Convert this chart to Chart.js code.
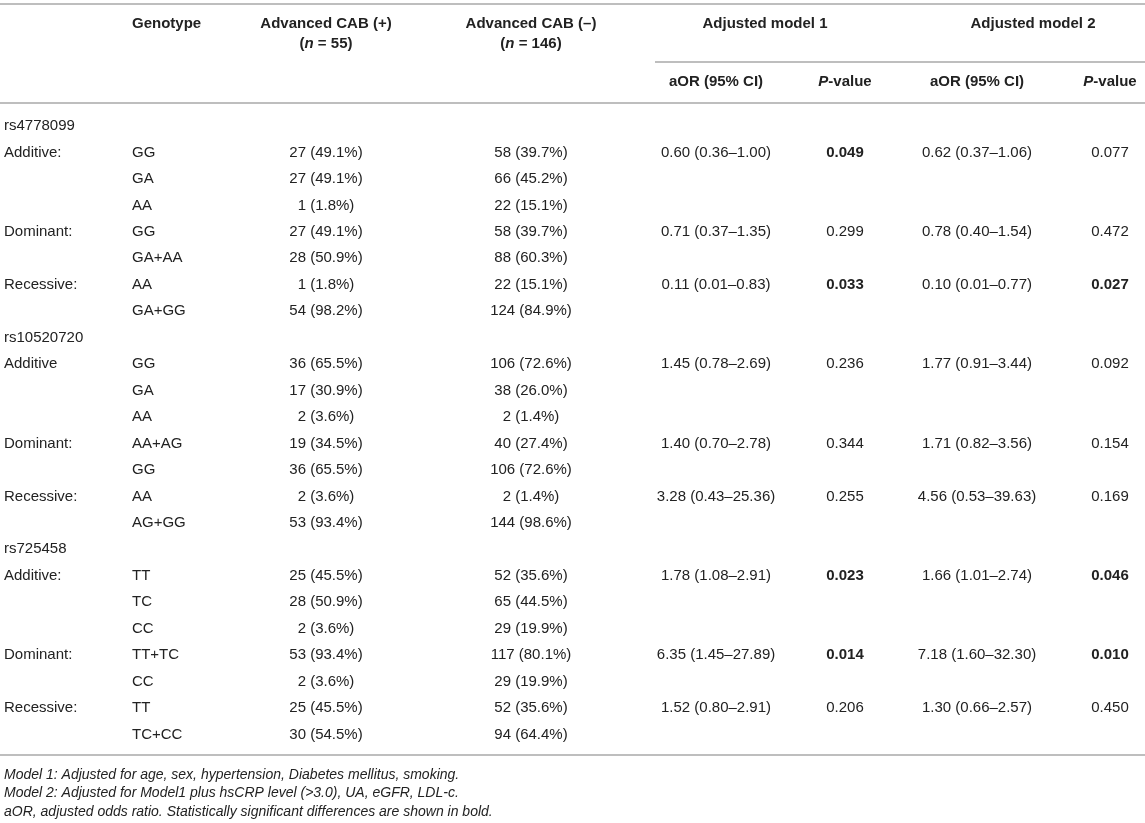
<!DOCTYPE html>
<html>
<head>
  <meta charset="utf-8">
  <title>Genotype table</title>
  <script src="https://cdn.jsdelivr.net/npm/chart.js"></script>
  <style>
    html, body { margin: 0; padding: 0; background: #fff; }
    #wrap { width: 1145px; height: 823px; position: relative; }
  </style>
</head>
<body>

<div id="wrap"><canvas id="tbl"></canvas></div>

<script>
  const rowGroup = ['rs4778099', 'Additive:', '', '', 'Dominant:', '', 'Recessive:', '',
                    'rs10520720', 'Additive', '', '', 'Dominant:', '', 'Recessive:', '',
                    'rs725458', 'Additive:', '', '', 'Dominant:', '', 'Recessive:', ''];
  const genotypes = ['', 'GG', 'GA', 'AA', 'GG', 'GA+AA', 'AA', 'GA+GG',
                     '', 'GG', 'GA', 'AA', 'AA+AG', 'GG', 'AA', 'AG+GG',
                     '', 'TT', 'TC', 'CC', 'TT+TC', 'CC', 'TT', 'TC+CC'];

  // Advanced CAB (+), n = 55
  const posN   = [null, 27, 27, 1, 27, 28, 1, 54,  null, 36, 17, 2, 19, 36, 2, 53,  null, 25, 28, 2, 53, 2, 25, 30];
  const posPct = [null, 49.1, 49.1, 1.8, 49.1, 50.9, 1.8, 98.2,  null, 65.5, 30.9, 3.6, 34.5, 65.5, 3.6, 93.4,
                  null, 45.5, 50.9, 3.6, 93.4, 3.6, 45.5, 54.5];
  // Advanced CAB (–), n = 146
  const negN   = [null, 58, 66, 22, 58, 88, 22, 124,  null, 106, 38, 2, 40, 106, 2, 144,  null, 52, 65, 29, 117, 29, 52, 94];
  const negPct = [null, 39.7, 45.2, 15.1, 39.7, 60.3, 15.1, 84.9,  null, 72.6, 26.0, 1.4, 27.4, 72.6, 1.4, 98.6,
                  null, 35.6, 44.5, 19.9, 80.1, 19.9, 35.6, 64.4];

  // rows that carry model results
  const modelRows = [1, 4, 6, 9, 12, 14, 17, 20, 22];
  const m1Or = [0.60, 0.71, 0.11, 1.45, 1.40, 3.28, 1.78, 6.35, 1.52];
  const m1Lo = [0.36, 0.37, 0.01, 0.78, 0.70, 0.43, 1.08, 1.45, 0.80];
  const m1Hi = [1.00, 1.35, 0.83, 2.69, 2.78, 25.36, 2.91, 27.89, 2.91];
  const m1P  = [0.049, 0.299, 0.033, 0.236, 0.344, 0.255, 0.023, 0.014, 0.206];
  const m2Or = [0.62, 0.78, 0.10, 1.77, 1.71, 4.56, 1.66, 7.18, 1.30];
  const m2Lo = [0.37, 0.40, 0.01, 0.91, 0.82, 0.53, 1.01, 1.60, 0.66];
  const m2Hi = [1.06, 1.54, 0.77, 3.44, 3.56, 39.63, 2.74, 32.30, 2.57];
  const m2P  = [0.077, 0.472, 0.027, 0.092, 0.154, 0.169, 0.046, 0.010, 0.450];

  const groupHeads = ['Advanced CAB (+)', 'Advanced CAB (\u2013)'];
  const groupSizes = [55, 146];
  const modelNames = ['Adjusted model 1', 'Adjusted model 2'];
  const footnotes = [
    'Model 1: Adjusted for age, sex, hypertension, Diabetes mellitus, smoking.',
    'Model 2: Adjusted for Model1 plus hsCRP level (>3.0), UA, eGFR, LDL-c.',
    'aOR, adjusted odds ratio. Statistically significant differences are shown in bold.'
  ];

  // --- layout (column anchors on the x scale, 0..1145) ---
  const colX = { group: 4, geno: 132, pos: 326, neg: 531, or1: 716, p1: 845, or2: 977, p2: 1110 };
  const modelHeadX = [765, 1033];
  const textColor = '#222222';
  const ruleColor = '#a8a8a8';
  const FONT = '"Liberation Sans", Arial, Helvetica, sans-serif';
  const BODY = 15;

  function font(size, bold, italic) {
    return (italic ? 'italic ' : '') + (bold ? 'bold ' : '') + size + 'px ' + FONT;
  }

  const fmtCount = (n, p) => n + ' (' + p.toFixed(1) + '%)';
  const fmtOr = (o, l, h) => o.toFixed(2) + ' (' + l.toFixed(2) + '\u2013' + h.toFixed(2) + ')';

  // one scatter dataset per column; points are invisible, text is drawn on them
  function column(key, align, texts, bolds) {
    const pts = [], labels = [], bold = [];
    texts.forEach((t, i) => {
      if (t === null || t === '') return;
      pts.push({ x: colX[key], y: i });
      labels.push(t);
      bold.push(bolds ? bolds[i] : false);
    });
    return { label: key, data: pts, texts: labels, bold: bold, align: align, pointRadius: 0, pointHitRadius: 0 };
  }

  function modelCol(vals) {
    const out = new Array(rowGroup.length).fill(null);
    modelRows.forEach((r, k) => { out[r] = vals(k); });
    return out;
  }

  const datasets = [
    column('group', 'left', rowGroup),
    column('geno', 'left', genotypes),
    column('pos', 'center', posN.map((n, i) => n === null ? null : fmtCount(n, posPct[i]))),
    column('neg', 'center', negN.map((n, i) => n === null ? null : fmtCount(n, negPct[i]))),
    column('or1', 'center', modelCol(k => fmtOr(m1Or[k], m1Lo[k], m1Hi[k]))),
    column('p1', 'center', modelCol(k => m1P[k].toFixed(3)), modelCol(k => m1P[k] < 0.05)),
    column('or2', 'center', modelCol(k => fmtOr(m2Or[k], m2Lo[k], m2Hi[k]))),
    column('p2', 'center', modelCol(k => m2P[k].toFixed(3)), modelCol(k => m2P[k] < 0.05))
  ];

  function drawRuns(ctx, runs, x, y, align, size) {
    let w = 0;
    runs.forEach(r => { ctx.font = font(size, r.b, r.i); r.w = ctx.measureText(r.t).width; w += r.w; });
    let cx = align === 'center' ? x - w / 2 : x;
    runs.forEach(r => {
      ctx.font = font(size, r.b, r.i);
      ctx.textAlign = 'left';
      ctx.fillText(r.t, cx, y);
      cx += r.w;
    });
  }

  function rule(ctx, x0, x1, y) {
    ctx.beginPath();
    ctx.moveTo(x0, y);
    ctx.lineTo(x1, y);
    ctx.stroke();
  }

  const tablePlugin = {
    id: 'tableText',
    afterDatasetsDraw(chart) {
      const ctx = chart.ctx;
      const xs = chart.scales.x, ys = chart.scales.y;
      const W = chart.width;
      ctx.save();
      ctx.fillStyle = textColor;
      ctx.textBaseline = 'middle';

      // body cells
      chart.data.datasets.forEach((ds, di) => {
        const meta = chart.getDatasetMeta(di);
        meta.data.forEach((pt, i) => {
          drawRuns(ctx, [{ t: ds.texts[i], b: ds.bold[i] }], pt.x, pt.y, ds.align, BODY);
        });
      });

      // header
      const hy1 = 24, hy2 = 44, hy3 = 82;
      drawRuns(ctx, [{ t: 'Genotype', b: 1 }], xs.getPixelForValue(colX.geno), hy1, 'left', BODY);
      ['pos', 'neg'].forEach((k, j) => {
        const x = xs.getPixelForValue(colX[k]);
        drawRuns(ctx, [{ t: groupHeads[j], b: 1 }], x, hy1, 'center', BODY);
        drawRuns(ctx, [{ t: '(', b: 1 }, { t: 'n', b: 1, i: 1 }, { t: ' = ' + groupSizes[j] + ')', b: 1 }], x, hy2, 'center', BODY);
      });
      [['or1', 'p1'], ['or2', 'p2']].forEach((pair, j) => {
        drawRuns(ctx, [{ t: modelNames[j], b: 1 }], xs.getPixelForValue(modelHeadX[j]), hy1, 'center', BODY);
        drawRuns(ctx, [{ t: 'aOR (95% CI)', b: 1 }], xs.getPixelForValue(colX[pair[0]]), hy3, 'center', BODY);
        drawRuns(ctx, [{ t: 'P', b: 1, i: 1 }, { t: '-value', b: 1 }], xs.getPixelForValue(colX[pair[1]]), hy3, 'center', BODY);
      });

      // footnotes
      footnotes.forEach((f, i) => {
        drawRuns(ctx, [{ t: f, i: 1 }], xs.getPixelForValue(colX.group), 775 + i * 18.5, 'left', 14);
      });

      // rules
      ctx.strokeStyle = ruleColor;
      ctx.lineWidth = 1.5;
      rule(ctx, 0, W, 4);
      rule(ctx, xs.getPixelForValue(655), W, 62);
      rule(ctx, 0, W, 103);
      rule(ctx, 0, W, ys.getPixelForValue(23) + 20.5);
      ctx.restore();
    }
  };

  new Chart(document.getElementById('tbl'), {
    type: 'scatter',
    data: { datasets: datasets },
    options: {
      responsive: true,
      maintainAspectRatio: false,
      animation: false,
      events: [],
      layout: { padding: { left: 0, right: 0, top: 126, bottom: 823 - 734.5 } },
      plugins: { legend: { display: false }, tooltip: { enabled: false } },
      scales: {
        x: { type: 'linear', min: 0, max: 1145, display: false },
        y: { type: 'linear', min: 0, max: 23, reverse: true, display: false }
      }
    },
    plugins: [tablePlugin]
  });
</script>

</body>
</html>
